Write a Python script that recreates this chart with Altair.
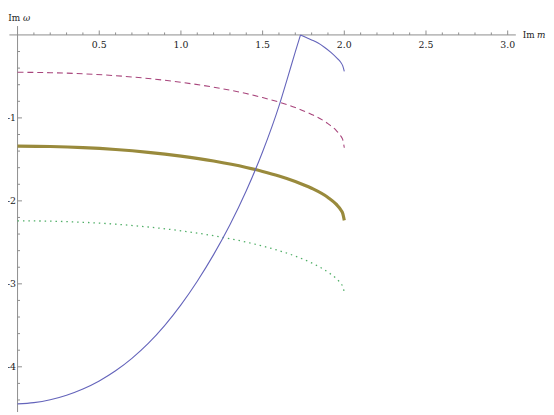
import altair as alt
import pandas as pd

# ---- data ----
M_GRID = [0.0, 0.2, 0.4, 0.6, 0.8, 1.0, 1.2, 1.4, 1.5, 1.6, 1.7, 1.8, 1.9, 1.95, 1.98, 1.99, 2.0]
DASHED = [-0.450, -0.455, -0.468, -0.491, -0.525, -0.571, -0.630, -0.707, -0.755, -0.810,
          -0.876, -0.958, -1.069, -1.150, -1.223, -1.260, -1.360]
OLIVE = [-1.340, -1.345, -1.358, -1.381, -1.415, -1.461, -1.520, -1.597, -1.645, -1.700,
         -1.766, -1.848, -1.959, -2.040, -2.113, -2.150, -2.235]
GREEN = [-2.240, -2.245, -2.258, -2.281, -2.315, -2.361, -2.420, -2.497, -2.545, -2.600,
         -2.666, -2.748, -2.859, -2.935, -3.000, -3.030, -3.100]

# blue curve: rising branch, then the short branch after the cusp
BLUE_L_M = [0.0, 0.1, 0.2, 0.3, 0.4, 0.5, 0.6, 0.7, 0.8, 0.9, 1.0, 1.1, 1.2, 1.3, 1.4, 1.5,
            1.6, 1.65, 1.7, 1.732]
BLUE_L_V = [-4.447, -4.432, -4.397, -4.342, -4.267, -4.170, -4.048, -3.898, -3.718, -3.503,
            -3.253, -2.968, -2.648, -2.288, -1.878, -1.408, -0.858, -0.535, -0.205, 0.0]
BLUE_R_M = [1.732, 1.76, 1.80, 1.837, 1.878, 1.918, 1.958, 1.978, 1.99, 2.0]
BLUE_R_V = [0.0, -0.025, -0.06, -0.095, -0.148, -0.21, -0.285, -0.33, -0.37, -0.44]

X_MAJOR = [0.5, 1.0, 1.5, 2.0, 2.5, 3.0]
X_LABELS = ["0.5", "1.0", "1.5", "2.0", "2.5", "3.0"]
X_MINOR = [0.1, 0.2, 0.3, 0.4, 0.6, 0.7, 0.8, 0.9, 1.1, 1.2, 1.3, 1.4, 1.6, 1.7, 1.8, 1.9,
           2.1, 2.2, 2.3, 2.4, 2.6, 2.7, 2.8, 2.9]
Y_MAJOR = [-1, -2, -3, -4]
Y_LABELS = ["-1", "-2", "-3", "-4"]
Y_MINOR = [-0.2, -0.4, -0.6, -0.8, -1.2, -1.4, -1.6, -1.8, -2.2, -2.4, -2.6, -2.8,
           -3.2, -3.4, -3.6, -3.8, -4.2, -4.4]
X_AXIS_RANGE = [-0.05, 3.05]
Y_AXIS_RANGE = [0.107, -4.545]

# ---- scales ----
xs = alt.Scale(domain=[-0.0585, 3.2346], nice=False, zero=False)
ys = alt.Scale(domain=[-4.545, 0.2886], nice=False, zero=False)
AX = "#8c8c8c"
TXT = "#222222"
FONT = "DejaVu Serif"
FS = 9.5
FT = 9


def X(f):
    return alt.X(f, type="quantitative", scale=xs, axis=None)


def Y(f):
    return alt.Y(f, type="quantitative", scale=ys, axis=None)


def line(ms, vals, color, width, dash=None, interp="monotone"):
    df = pd.DataFrame({"m": ms, "v": vals, "i": range(len(ms))})
    kw = dict(color=color, strokeWidth=width, clip=True, interpolate=interp)
    if dash:
        kw["strokeDash"] = dash
    return alt.Chart(df).mark_line(**kw).encode(x=X("m"), y=Y("v"), order="i:Q")


BLUE = "#6464bb"
blue_l = line(BLUE_L_M, BLUE_L_V, BLUE, 1.1)
blue_r = line(BLUE_R_M, BLUE_R_V, BLUE, 1.1)
dashed = line(M_GRID, DASHED, "#a8457c", 1.1, [6, 4])
olive = line(M_GRID, OLIVE, "#998a3c", 3.2)
green = line(M_GRID, GREEN, "#4fae66", 1.3, [1.5, 4])

# ---- axes ----
one = pd.DataFrame({"x0": [X_AXIS_RANGE[0]], "x1": [X_AXIS_RANGE[1]],
                    "y0": [Y_AXIS_RANGE[0]], "y1": [Y_AXIS_RANGE[1]], "z": [0.0]})
x_axis = alt.Chart(one).mark_rule(color=AX, strokeWidth=1).encode(
    x=X("x0"), x2="x1", y=Y("z"))
y_axis = alt.Chart(one).mark_rule(color=AX, strokeWidth=1).encode(
    x=X("z"), y=Y("y0"), y2="y1")

xmaj = pd.DataFrame({"t": X_MAJOR, "lab": X_LABELS, "z": 0.0})
xmin = pd.DataFrame({"t": X_MINOR, "z": 0.0})
ymaj = pd.DataFrame({"t": Y_MAJOR, "lab": Y_LABELS, "z": 0.0})
ymin = pd.DataFrame({"t": Y_MINOR, "z": 0.0})

xt_major = alt.Chart(xmaj).mark_rule(color=AX, y2Offset=-4.5).encode(
    x=X("t"), y=Y("z"), y2="z")
xt_minor = alt.Chart(xmin).mark_rule(color=AX, y2Offset=-2.5).encode(
    x=X("t"), y=Y("z"), y2="z")
yt_major = alt.Chart(ymaj).mark_rule(color=AX, x2Offset=4.5).encode(
    y=Y("t"), x=X("z"), x2="z")
yt_minor = alt.Chart(ymin).mark_rule(color=AX, x2Offset=2.5).encode(
    y=Y("t"), x=X("z"), x2="z")

x_labels = alt.Chart(xmaj).mark_text(font=FONT, fontSize=FS, color=TXT,
                                     baseline="middle", align="center", dy=10.5).encode(
    x=X("t"), y=Y("z"), text="lab:N")
y_labels = alt.Chart(ymaj).mark_text(font=FONT, fontSize=FS, color=TXT,
                                     baseline="middle", align="right", dx=-1.5).encode(
    x=X("z"), y=Y("t"), text="lab:N")

# axis titles
tdf = pd.DataFrame({"xe": [X_AXIS_RANGE[1]], "z": [0.0], "yt": [Y_AXIS_RANGE[0]]})
t_im_x = alt.Chart(tdf).mark_text(font=FONT, fontSize=FT, color=TXT,
                                  align="left", baseline="middle", dx=7, text="Im").encode(
    x=X("xe"), y=Y("z"))
t_m_x = alt.Chart(tdf).mark_text(font=FONT, fontSize=FT, color=TXT, fontStyle="italic",
                                 align="left", baseline="middle", dx=21.5, text="m").encode(
    x=X("xe"), y=Y("z"))
t_im_y = alt.Chart(tdf).mark_text(font=FONT, fontSize=FT, color=TXT,
                                  align="left", baseline="middle", dx=-9.5, dy=-8, text="Im").encode(
    x=X("z"), y=Y("yt"))
t_w_y = alt.Chart(tdf).mark_text(font=FONT, fontSize=FT, color=TXT, fontStyle="italic",
                                 align="left", baseline="middle", dx=5.5, dy=-8, text="\u03c9").encode(
    x=X("z"), y=Y("yt"))

chart = alt.layer(
    x_axis, y_axis, xt_major, xt_minor, yt_major, yt_minor, x_labels, y_labels,
    t_im_x, t_m_x, t_im_y, t_w_y,
    dashed, green, olive, blue_l, blue_r,
).properties(
    width=546, height=407, padding=0,
    autosize=alt.AutoSizeParams(type="none"),
).configure_view(stroke=None)

chart.save("out.html", embed_options={"renderer": "svg", "actions": False})
